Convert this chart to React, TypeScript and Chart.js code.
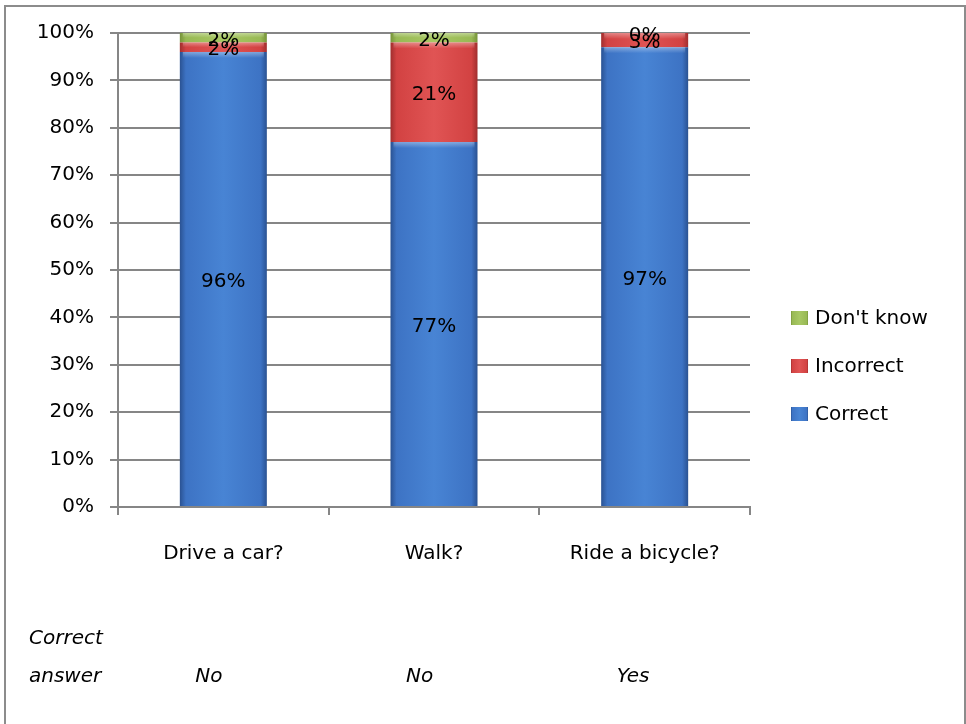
import React, { useEffect, useRef } from "react";
import { Chart, registerables } from "chart.js";

Chart.register(...registerables);

const categories = ["Drive a car?", "Walk?", "Ride a bicycle?"];
const correct = [96, 77, 97];
const incorrect = [2, 21, 3];
const dontKnow = [2, 2, 0];
const seriesNames = ["Correct", "Incorrect", "Don't know"];
const correctAnswers = ["No", "No", "Yes"];
const answerHeader = ["Correct", "answer"];

const FONT = "'DejaVu Sans', 'Liberation Sans', sans-serif";
const GRID = "#868686";

type Shades = { base: string; light: string; dark: string };
const blue: Shades = { base: "#3d73c4", light: "#4884d4", dark: "#2a5292" };
const red: Shades = { base: "#d24242", light: "#e05454", dark: "#a02e2e" };
const green: Shades = { base: "#98b954", light: "#a8c864", dark: "#76933a" };

const BAR_FRACTION = 0.413;

function makeGradient(c: CanvasRenderingContext2D, x0: number, x1: number, s: Shades) {
  const g = c.createLinearGradient(x0, 0, x1, 0);
  g.addColorStop(0, s.dark);
  g.addColorStop(0.07, s.base);
  g.addColorStop(0.5, s.light);
  g.addColorStop(0.93, s.base);
  g.addColorStop(1, s.dark);
  return g;
}

function barFill(s: Shades) {
  return (ctx: any) => {
    const chart = ctx.chart;
    const xs = chart.scales && chart.scales.x;
    if (!chart.chartArea || !xs || ctx.type !== "data") return s.base;
    const cx = xs.getPixelForValue(ctx.dataIndex);
    const half = (xs.width / categories.length) * BAR_FRACTION / 2;
    if (!isFinite(cx) || !isFinite(half) || half <= 0) return s.base;
    return makeGradient(chart.ctx, cx - half, cx + half, s);
  };
}

const seriesShades = [blue, red, green];

const labelsPlugin = {
  id: "segLabels",
  afterDatasetsDraw(chart: any) {
    const c: CanvasRenderingContext2D = chart.ctx;
    c.save();
    // subtle top bevel highlight on each segment
    chart.data.datasets.forEach((_ds: any, di: number) => {
      const meta = chart.getDatasetMeta(di);
      meta.data.forEach((el: any) => {
        const h = el.base - el.y;
        if (h <= 3) return;
        const bh = Math.min(6, h / 2);
        const g = c.createLinearGradient(0, el.y, 0, el.y + bh);
        g.addColorStop(0, "rgba(255,255,255,0.35)");
        g.addColorStop(1, "rgba(255,255,255,0)");
        c.fillStyle = g;
        c.fillRect(el.x - el.width / 2 + 3, el.y, el.width - 6, bh);
      });
    });
    c.font = `20px ${FONT}`;
    c.fillStyle = "#000";
    c.textAlign = "center";
    c.textBaseline = "middle";
    chart.data.datasets.forEach((ds: any, di: number) => {
      const meta = chart.getDatasetMeta(di);
      meta.data.forEach((el: any, i: number) => {
        const v = ds.data[i];
        const y = (el.y + el.base) / 2 + 3;
        c.fillText(`${v}%`, el.x, y);
      });
    });
    c.restore();
  },
};

const extrasPlugin = {
  id: "extras",
  afterDraw(chart: any) {
    const c: CanvasRenderingContext2D = chart.ctx;
    const xs = chart.scales.x;
    c.save();
    // legend (custom, reversed order)
    c.font = `20px ${FONT}`;
    c.textBaseline = "middle";
    c.textAlign = "left";
    const legendX = 791;
    const legendBottomY = 414;
    const step = 48;
    chart.data.datasets.forEach((ds: any, di: number) => {
      const y = legendBottomY - di * step;
      const s = seriesShades[di];
      c.fillStyle = makeGradient(c, legendX, legendX + 17, s);
      c.fillRect(legendX, y - 7, 17, 14);
      c.fillStyle = "#000";
      c.fillText(ds.label, legendX + 24, y + 1);
    });
    // correct answers row
    c.font = `italic 20px ${FONT}`;
    c.fillStyle = "#000";
    c.fillText(answerHeader[0], 29, 639);
    c.fillText(answerHeader[1], 29, 677);
    correctAnswers.forEach((a, i) => {
      const x = xs.getPixelForValue(i) - 28;
      c.fillText(a, x, 677);
    });
    c.restore();
  },
};

export default function App() {
  const ref = useRef<HTMLCanvasElement | null>(null);

  useEffect(() => {
    document.body.style.margin = "0";
    const canvas = ref.current;
    if (!canvas) return;
    const chart = new Chart(canvas, {
      type: "bar",
      data: {
        labels: categories,
        datasets: [
          { label: seriesNames[0], data: correct, backgroundColor: barFill(blue) as any, borderWidth: 0 },
          { label: seriesNames[1], data: incorrect, backgroundColor: barFill(red) as any, borderWidth: 0 },
          { label: seriesNames[2], data: dontKnow, backgroundColor: barFill(green) as any, borderWidth: 0 },
        ],
      },
      options: {
        animation: false,
        responsive: false,
        devicePixelRatio: 1,
        datasets: { bar: { categoryPercentage: 1, barPercentage: BAR_FRACTION } },
        layout: { padding: { top: 33, right: 216, left: 0, bottom: 0 } },
        plugins: {
          legend: { display: false },
          tooltip: { enabled: false },
          title: { display: false },
        },
        scales: {
          x: {
            stacked: true,
            offset: true,
            grid: {
              offset: true,
              drawOnChartArea: false,
              drawTicks: true,
              tickLength: 8,
              color: GRID,
              lineWidth: 2,
            },
            border: { color: GRID, width: 2 },
            ticks: {
              font: { family: FONT, size: 20 },
              color: "#000",
              padding: 27,
              maxRotation: 0,
              autoSkip: false,
            },
            afterFit: (s: any) => {
              s.height = 217;
            },
          },
          y: {
            stacked: true,
            min: 0,
            max: 100,
            ticks: {
              stepSize: 10,
              callback: (v: any) => `${v}%`,
              font: { family: FONT, size: 20 },
              color: "#000",
              padding: 16,
            },
            grid: { color: GRID, lineWidth: 2, tickLength: 8 },
            border: { color: GRID, width: 2 },
            afterFit: (s: any) => {
              s.width = 118;
            },
          },
        },
      },
      plugins: [labelsPlugin, extrasPlugin],
    });
    return () => chart.destroy();
  }, []);

  return (
    <div
      style={{
        position: "fixed",
        left: 0,
        top: 0,
        width: 966,
        height: 724,
        overflow: "hidden",
        background: "#fff",
      }}
    >
      <div
        style={{
          position: "absolute",
          left: 4,
          top: 5,
          width: 962,
          height: 800,
          border: "2px solid #8c8c8c",
          boxSizing: "border-box",
        }}
      />
      <canvas
        ref={ref}
        width={966}
        height={724}
        style={{ position: "absolute", left: 0, top: 0, width: 966, height: 724 }}
      />
    </div>
  );
}
